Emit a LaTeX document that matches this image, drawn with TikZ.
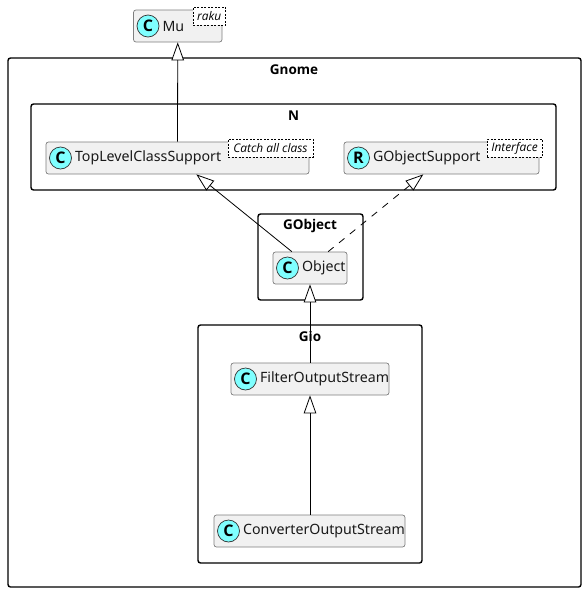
\documentclass[tikz,border=0pt]{standalone}
\usepackage{fontspec}
\setmainfont{Noto Sans}
\newfontfamily\stereofont{Open Sans}
\usetikzlibrary{arrows.meta,positioning}
\definecolor{boxfill}{HTML}{F1F1F1}
\definecolor{boxline}{HTML}{7E7E7E}
\definecolor{spotfill}{HTML}{7FFFFF}
\tikzset{cluster/.style={rectangle,rounded corners=2.5pt,draw=black,line width=1.4pt,inner sep=0pt},
clustertitle/.style={font=\stereofont\bfseries\fontsize{13.5}{15}\selectfont,inner sep=0pt},
classbox/.style={rectangle,rounded corners=2.5pt,draw=boxline,fill=boxfill,line width=0.7pt,inner sep=0pt,minimum height=32pt},
spot/.style={circle,draw=black!80,fill=spotfill,line width=0.7pt,minimum size=22pt,inner sep=0pt,font=\stereofont\bfseries\fontsize{16}{18}\selectfont},
classname/.style={font=\fontsize{14.2}{16}\selectfont,inner sep=0pt,text=black!90},
stereo/.style={rectangle,draw=black,fill=white,dashed,dash pattern=on 2pt off 1.5pt,line width=0.7pt,inner sep=0pt,minimum height=18pt,font=\stereofont\itshape\fontsize{11.9}{13}\selectfont},
arrowup/.style={-{Triangle[length=18pt,width=12.5pt,fill=white,line width=0.8pt]},line width=0.8pt,black}}
\begin{document}
\begin{tikzpicture}[x=1pt,y=-1pt]
\useasboundingbox (0,0) rectangle (585,592);

% packages
\node (gnome) at (294.5,322.5)[cluster,minimum width=573pt,minimum height=529pt]{};
\node (n) at (293.5,147)[cluster,minimum width=525pt,minimum height=86pt]{};
\node (gobject) at (310.5,257)[cluster,minimum width=105pt,minimum height=86pt]{};
\node (gio) at (310,444)[cluster,minimum width=224pt,minimum height=238pt]{};

\node (gnometitle) at (294,70)[clustertitle]{Gnome};
\node (ntitle) at (293.5,116)[clustertitle]{N};
\node (gobjecttitle) at (310,226)[clustertitle]{GObject};
\node (giotitle) at (310,336)[clustertitle]{Gio};

% classes
\node (mu) at (177.75,26)[classbox,minimum width=88.5pt]{};
\node (muspot) [spot,right=3.5pt of mu.west]{C};
\node (muname) [classname,right=3pt of muspot]{Mu};
\node (mustereo) at (209.25,16)[stereo,minimum width=32.5pt]{raku};

\node (toplevel) at (177.5,158)[classbox,minimum width=263pt]{};
\node (toplevelspot) [spot,right=3.5pt of toplevel.west]{C};
\node (toplevelname) [classname,right=3pt of toplevelspot]{TopLevelClassSupport};
\node (toplevelstereo) at (270.5,148)[stereo,minimum width=85pt]{Catch all class};

\node (gobjectsupport) at (441.5,158)[classbox,minimum width=195pt]{};
\node (gobjectsupportspot) [spot,right=3.5pt of gobjectsupport.west]{R};
\node (gobjectsupportname) [classname,right=3pt of gobjectsupportspot]{GObjectSupport};
\node (gobjectsupportstereo) at (514.5,148)[stereo,minimum width=55pt]{Interface};

\node (object) at (310,268)[classbox,minimum width=74pt]{};
\node (objectspot) [spot,right=3.5pt of object.west]{C};
\node (objectname) [classname,right=3pt of objectspot]{Object};

\node (filter) at (310,379)[classbox,minimum width=158pt]{};
\node (filterspot) [spot,right=3.5pt of filter.west]{C};
\node (filtername) [classname,right=3pt of filterspot]{FilterOutputStream};

\node (converter) at (309.5,531)[classbox,minimum width=191pt]{};
\node (converterspot) [spot,right=3.5pt of converter.west]{C};
\node (convertername) [classname,right=3pt of converterspot]{ConverterOutputStream};

% inheritance
\draw [arrowup] (toplevel.north) -- (mu.south);
\draw [arrowup] (object.138) -- (toplevel.-41);
\draw [arrowup,dash pattern=on 7pt off 7pt] (object.42) -- (gobjectsupport.222);
\draw [arrowup] (filter.north) -- (object.south);
\draw [arrowup] (converter.north -| filter.north) -- (filter.south);
\end{tikzpicture}
\end{document}
